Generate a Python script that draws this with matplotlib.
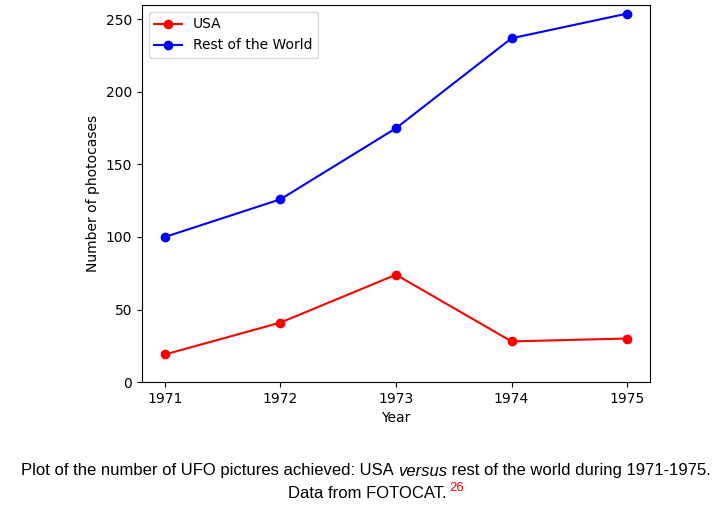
import matplotlib
matplotlib.use("Agg")
import matplotlib.pyplot as plt

years = [1971, 1972, 1973, 1974, 1975]
usa = [19, 41, 74, 28, 30]
rest_of_world = [100, 126, 175, 237, 254]

fig = plt.figure(figsize=(7.2, 5.18), dpi=100)
ax = fig.add_axes([0.197, 0.2625, 0.706, 0.728])

ax.plot(years, usa, 'o-', color='red', label='USA')
ax.plot(years, rest_of_world, 'o-', color='blue', label='Rest of the World')

ax.set_xticks(years)
ax.set_ylim(0, 260)
ax.set_xlabel('Year')
ax.set_ylabel('Number of photocases')
ax.legend(loc='upper left')

# caption below the chart, with mixed styles on one line
cap = dict(family='Liberation Sans', fontsize=12)
pieces = [
    ("Plot of the number of UFO pictures achieved: USA ", 'normal'),
    ("versus", 'italic'),
    (" rest of the world during 1971-1975.", 'normal'),
]
texts = [fig.text(0, 0, s, style=st, va='center', ha='left', **cap)
         for s, st in pieces]
line2 = fig.text(0, 0, "Data from FOTOCAT.", va='center', ha='left', **cap)
sup = fig.text(0, 0, "26", color='red', va='center', ha='left',
               family='Liberation Sans', fontsize=9.5)

fig.canvas.draw()
r = fig.canvas.get_renderer()
W, H = fig.bbox.width, fig.bbox.height

# line 1, centred near x=366 px, y=472 px from top
widths = [t.get_window_extent(r).width for t in texts]
x = 366 - sum(widths) / 2
for t, w in zip(texts, widths):
    t.set_position((x / W, 1 - 471 / H))
    x += w

# line 2 with red superscript
w2 = line2.get_window_extent(r).width
ws = sup.get_window_extent(r).width
x = 376 - (w2 + 2 + ws) / 2
line2.set_position((x / W, 1 - 494 / H))
sup.set_position(((x + w2 + 2) / W, 1 - 488 / H))

fig.savefig('out.png', dpi=100)
